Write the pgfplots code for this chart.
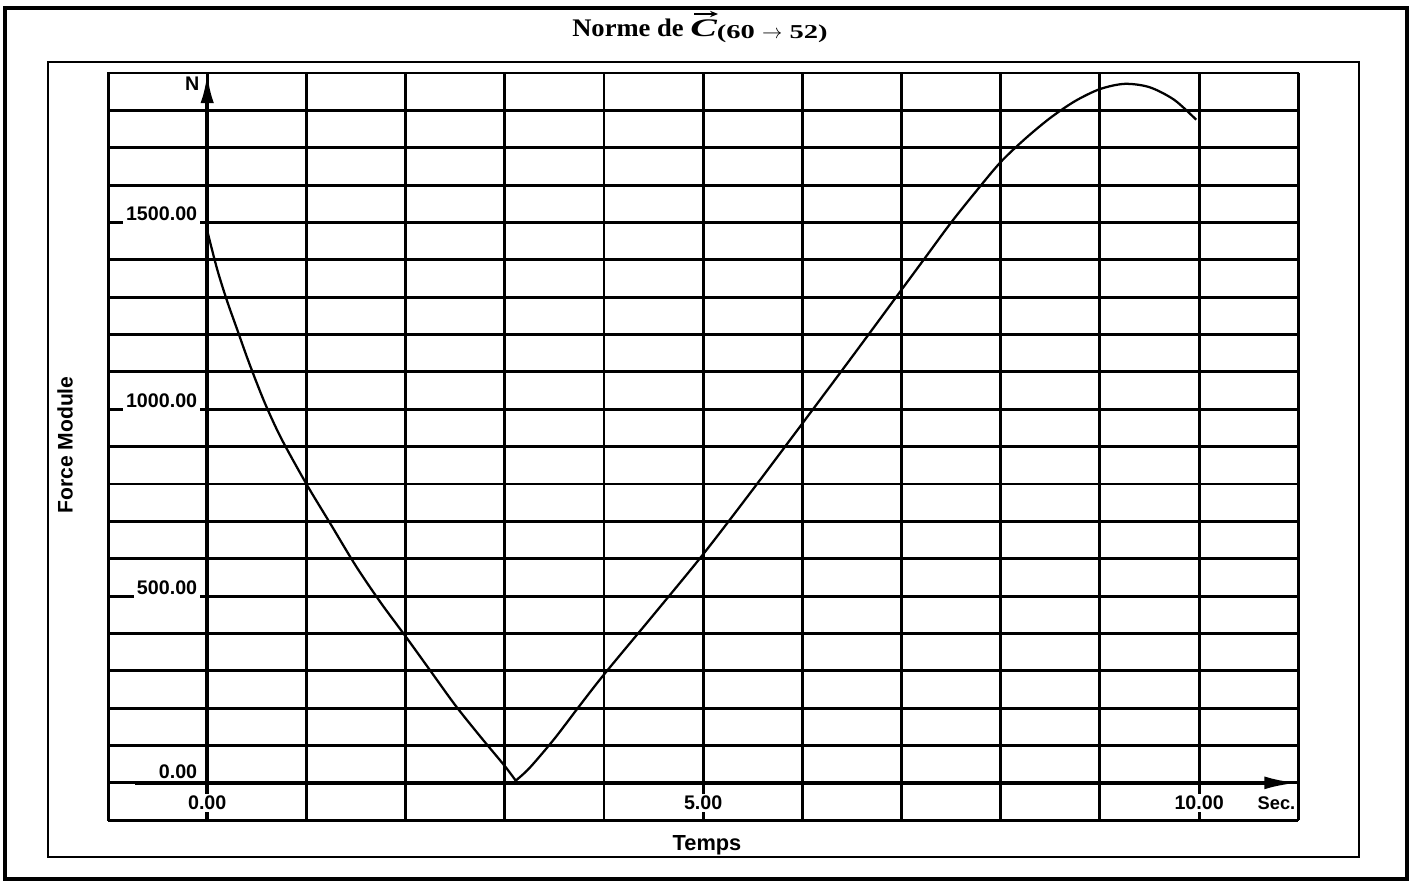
\documentclass[border=0pt]{standalone}
\usepackage{fontspec}
\usepackage{graphicx}
\setmainfont{Liberation Sans}
\newfontfamily\titlefont[FakeStretch=1.05]{Liberation Serif}
\newfontfamily\subfont[FakeStretch=1.45]{Liberation Serif}
\usepackage{pgfplots}
\pgfplotsset{compat=1.18}
\usetikzlibrary{arrows.meta}
\begin{document}
\begin{tikzpicture}
\begin{scope}[x=0.025cm,y=-0.025cm]
\useasboundingbox (0,0) rectangle (1413,881);
\draw[line width=2.4pt] (5,8) rectangle (1407,879);
\draw[line width=2pt] (48,62) rectangle (1359,857);
\node[anchor=base west, inner sep=0pt, font=\titlefont\bfseries\fontsize{18}{20}\selectfont] at (572,36) {Norme de \scalebox{1.5}[1]{\itshape C}\raisebox{-2pt}{\subfont\bfseries\fontsize{14}{15}\selectfont(60 $\rightarrow$ 52)}};
\draw[line width=1.3pt, -{Stealth[length=0.2cm,width=0.16cm]}] (694,14) -- (718,14);
\node[rotate=90, font=\bfseries\fontsize{15}{16}\selectfont] at (65,445) {Force Module};
\node[font=\bfseries\fontsize{15.5}{16}\selectfont] at (707,845) {Temps};
\end{scope}
\begin{axis}[at={(2.7cm,-20.5cm)}, anchor=south west,
  width=29.75cm, height=18.675cm, scale only axis,
  xmin=-1, xmax=11, ymin=-100, ymax=1900,
  xtick={-1,0,...,11}, ytick={-100,0,100,...,1900},
  xticklabel=\empty, yticklabel=\empty,
  major tick length=0pt,
  grid=major, major grid style={line width=2.1pt, black},
  axis line style={line width=1.5pt},
  clip=false]
\node[anchor=south east, fill=white, inner xsep=2pt, inner ysep=2.5pt, yshift=-1.4pt, font=\bfseries\fontsize{14}{14}\selectfont] at (axis cs:-0.07,1500) {1500.00};
\node[anchor=south east, fill=white, inner xsep=2pt, inner ysep=2.5pt, yshift=-1.4pt, font=\bfseries\fontsize{14}{14}\selectfont] at (axis cs:-0.07,1000) {1000.00};
\node[anchor=south east, fill=white, inner xsep=2pt, inner ysep=2.5pt, yshift=-1.4pt, font=\bfseries\fontsize{14}{14}\selectfont] at (axis cs:-0.07,500) {500.00};
\draw[line width=2.8pt, -{Latex[length=0.85cm,width=0.32cm]}] (axis cs:-0.73,0) -- (axis cs:11,0);
\draw[line width=2.8pt, -{Latex[length=0.75cm,width=0.33cm]}] (axis cs:0,-100) -- (axis cs:0,1900);
\node[anchor=south east, inner xsep=2pt, inner ysep=0pt, yshift=2.5pt, font=\bfseries\fontsize{14}{14}\selectfont] at (axis cs:-0.07,0) {0.00};
\node[fill=white, inner sep=1.5pt, font=\bfseries\fontsize{14}{14}\selectfont] at (axis cs:0,-54) {0.00};
\node[fill=white, inner sep=1.5pt, font=\bfseries\fontsize{14}{14}\selectfont] at (axis cs:5,-54) {5.00};
\node[fill=white, inner sep=1.5pt, font=\bfseries\fontsize{14}{14}\selectfont] at (axis cs:10,-54) {10.00};
\node[font=\bfseries\fontsize{13}{13}\selectfont] at (axis cs:10.78,-54) {Sec.};
\node[font=\bfseries\fontsize{14}{14}\selectfont] at (axis cs:-0.15,1871) {N};
\addplot[black, line width=1.6pt, smooth, tension=0.5] coordinates {
(0,1478) (0.1,1375) (0.2,1290) (0.3,1215) (0.4,1140) (0.5,1070) (0.6,1005)
(0.75,920) (1.0,800) (1.25,690) (1.5,580) (1.75,482) (2.0,392) (2.25,300)
(2.5,208) (2.75,125) (3.0,45) (3.11,6)};
\addplot[black, line width=1.6pt, smooth, tension=0.5] coordinates {
(3.11,6) (3.25,40) (3.5,118) (3.75,205) (4.0,290) (4.5,450) (5.0,612)
(5.5,785) (6.0,962) (6.5,1140) (7.0,1320) (7.25,1410) (7.5,1500)
(7.75,1583) (8.0,1662) (8.25,1725) (8.5,1780) (8.75,1825) (9.0,1857)
(9.25,1871) (9.5,1862) (9.75,1828) (9.97,1775)};
\end{axis}
\end{tikzpicture}
\end{document}
